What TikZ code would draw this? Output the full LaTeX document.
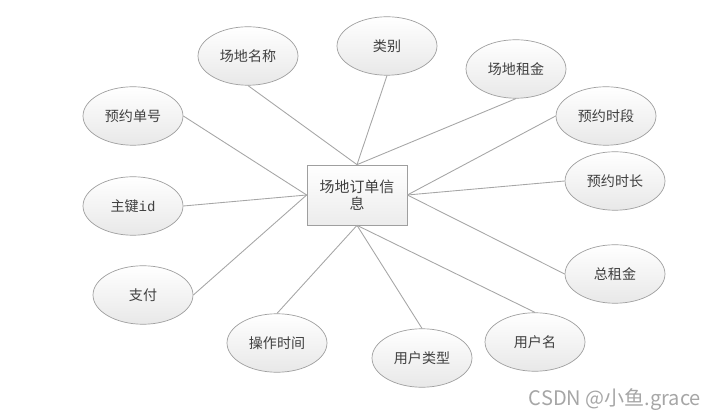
\documentclass[tikz,border=0pt]{standalone}
\usepackage{fontspec}
\setmainfont{Noto Sans CJK SC}
\setmonofont{Liberation Mono}
\usetikzlibrary{shapes.geometric}
\newcommand{\ew}{2cm}
\newcommand{\eh}{1.17cm}

\tikzset{
    attr/.style={ellipse, draw=gray!75, top color=white, bottom color=gray!18,
        minimum width=\ew, minimum height=\eh, inner sep=0pt,
        text=black!75, font=\fontsize{8}{10}\selectfont},
    entity/.style={rectangle, draw=gray!75, top color=white, bottom color=gray!15,
        minimum width=2cm, minimum height=1.2cm, align=center, inner sep=0pt,
        text=black!75, font=\fontsize{8.5}{9.5}\selectfont},
    link/.style={draw=gray!70, line width=0.5pt}
}

\begin{document}
\begin{tikzpicture}[x=0.02cm, y=-0.02cm]

        \useasboundingbox (0, 0) rectangle (716, 418);

        \node[entity] (order) at (357, 195) {场地订单信\\息};

        % top
        \node[attr] (name) at (248, 56) {场地名称};
        \node[attr] (kind) at (387, 46) {类别};
        \node[attr] (rent) at (516, 69) {场地租金};

        % left
        \node[attr] (no) at (133, 116) {预约单号};
        \node[attr] (id) at (133, 206) {主键\texttt{id}};
        \node[attr] (pay) at (143, 295) {支付};

        % right
        \node[attr] (slot) at (606, 116) {预约时段};
        \node[attr] (len) at (615, 181) {预约时长};
        \node[attr] (total) at (615, 274) {总租金};

        % bottom
        \node[attr] (optime) at (277, 343) {操作时间};
        \node[attr] (utype) at (422, 358) {用户类型};
        \node[attr] (uname) at (535, 342) {用户名};

        \draw[link] (name.south) -- (order.north);
        \draw[link] (kind.south) -- (order.north);
        \draw[link] (rent.south) -- (order.north);

        \draw[link] (no.east) -- (order.west);
        \draw[link] (id.east) -- (order.west);
        \draw[link] (pay.east) -- (order.west);

        \draw[link] (slot.west) -- (order.east);
        \draw[link] (len.west) -- (order.east);
        \draw[link] (total.west) -- (order.east);

        \draw[link] (optime.north) -- (order.south);
        \draw[link] (utype.north) -- (order.south);
        \draw[link] (uname.north) -- (order.south);

        \node[text=gray!70, font=\fontsize{11.4}{12}\selectfont] (mark) at (615, 400) {CSDN @小鱼.grace};

    \end{tikzpicture}
\end{document}
